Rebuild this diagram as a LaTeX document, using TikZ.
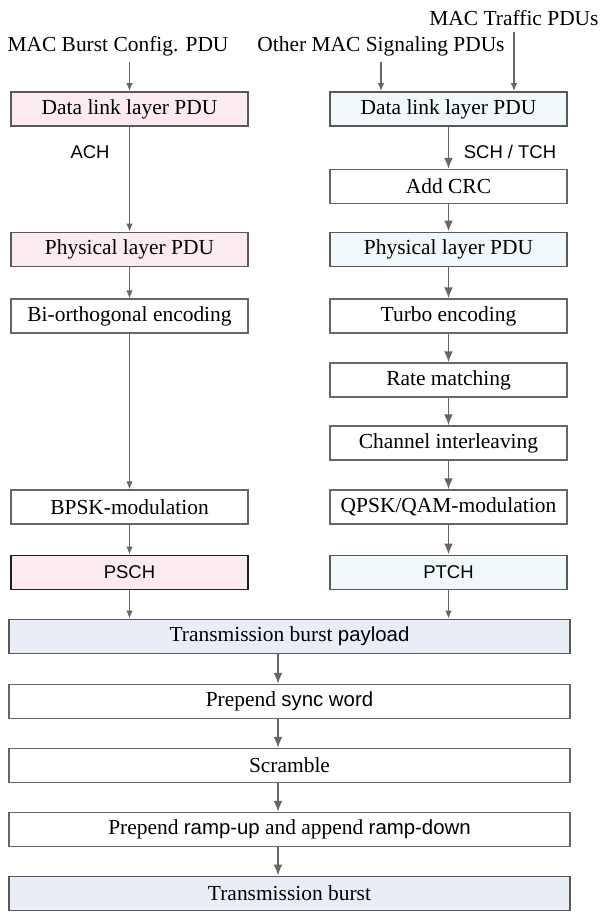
\documentclass[tikz,border=0pt]{standalone}
\usepackage{fontspec}
\setmainfont{Liberation Serif}
\setsansfont{Liberation Sans}
\usetikzlibrary{shapes,arrows.meta}
\newcommand{\sanst}[1]{{\sffamily\fontsize{10.5pt}{12}\selectfont #1}}
\newcommand{\sanslc}[1]{{\sffamily\fontsize{11.6pt}{13}\selectfont #1}}
\definecolor{pinkfill}{HTML}{FCEBEE}
\definecolor{bluefill}{HTML}{F0F8FC}
\definecolor{burstfill}{HTML}{E9EEF6}
\definecolor{linegray}{HTML}{666666}

\begin{document}
\begin{tikzpicture}[auto, node distance=1.28cm]
    \tikzset{font={\fontsize{12.2pt}{14}\selectfont}}
    \tikzset{box/.style={draw=linegray, line width=0.75pt, minimum width=4.74cm, minimum height=0.68cm, inner sep=0pt},
      pinkbox/.style={box, fill=pinkfill, draw=black!65, line width=1.1pt},
      bluebox/.style={box, fill=bluefill, draw=black!65, line width=1.1pt},
      widebox/.style={box, minimum width=11.22cm},
      burstbox/.style={widebox, fill=burstfill, draw=black!65, line width=1.1pt},
      thinarr/.style={draw=linegray, line width=0.6pt, -{Latex[length=1.6mm, width=1.3mm]}},
      thickarr/.style={draw=linegray, line width=1.1pt, -{Latex[length=2.2mm, width=1.8mm]}}}
    \useasboundingbox (0,0) rectangle (12.1,-18.26);
    \node (mbc) at (2.36,-0.92) {MAC Burst Config. PDU};
    \node (osp) at (7.62,-0.92) {Other MAC Signaling PDUs};
    \node (mtp) at (10.28,-0.36) {MAC Traffic PDUs};
    \node [pinkbox] (dll) at (2.59,-2.18) {Data link layer PDU};
    \node [pinkbox, below of=dll, node distance=2.81cm] (pll) {Physical layer PDU};
    \node [box, below of=pll, node distance=1.33cm] (bio) {Bi-orthogonal encoding};
    \node [box, below of=bio, node distance=3.82cm] (bpsk) {BPSK-modulation};
    \node [pinkbox, draw=black!88, below of=bpsk, node distance=1.31cm] (psch) {\sanst{PSCH}};
    \node [bluebox] (dlr) at (8.97,-2.18) {Data link layer PDU};
    \node [box, below of=dlr, node distance=1.55cm] (crc) {Add CRC};
    \node [bluebox, below of=crc, node distance=1.26cm] (plr) {Physical layer PDU};
    \node [box, below of=plr, node distance=1.33cm] (turbo) {Turbo encoding};
    \node [box, below of=turbo] (rate) {Rate matching};
    \node [box, below of=rate, node distance=1.26cm] (chan) {Channel interleaving};
    \node [box, below of=chan] (qpsk) {QPSK/QAM-modulation};
    \node [bluebox, below of=qpsk, node distance=1.31cm] (ptch) {\sanst{PTCH}};
    \node [burstbox] (payload) at (5.79,-12.73) {Transmission burst \sanslc{payload}};
    \node [widebox, below of=payload, node distance=1.30cm] (sync) {Prepend \sanslc{sync word}};
    \node [widebox, below of=sync] (scr) {Scramble};
    \node [widebox, below of=scr] (ramp) {Prepend \sanslc{ramp-up} and append \sanslc{ramp-down}};
    \node [burstbox, below of=ramp] (burst) {Transmission burst};
    \node (ach) at (1.80,-3.04) {\sanst{ACH}};
    \node (scht) at (10.20,-3.04) {\sanst{SCH / TCH}};
    \coordinate (mid) at (5.56,-12.73);
      \draw [thinarr] (mbc.south -| dll.north) -- (dll.north);
      \draw [thinarr] (osp.south) -- (osp.south |- dlr.north);
      \draw [thinarr] (mtp.south) -- (mtp.south |- dlr.north);
      \draw [thinarr] (dll) -- (pll);
      \draw [thinarr] (pll) -- (bio);
      \draw [thinarr] (bio) -- (bpsk);
      \draw [thinarr] (bpsk) -- (psch);
      \draw [thickarr] (dlr) -- (crc);
      \draw [thickarr] (crc) -- (plr);
      \draw [thickarr] (plr) -- (turbo);
      \draw [thickarr] (turbo) -- (rate);
      \draw [thickarr] (rate) -- (chan);
      \draw [thickarr] (chan) -- (qpsk);
      \draw [thickarr] (qpsk) -- (ptch);
      \draw [thinarr] (psch.south) -- (psch.south |- payload.north);
      \draw [thinarr] (ptch.south) -- (ptch.south |- payload.north);
      \draw [thickarr] (payload.south -| mid) -- (sync.north -| mid);
      \draw [thickarr] (sync.south -| mid) -- (scr.north -| mid);
      \draw [thickarr] (scr.south -| mid) -- (ramp.north -| mid);
      \draw [thickarr] (ramp.south -| mid) -- (burst.north -| mid);
      \end{tikzpicture}
\end{document}
